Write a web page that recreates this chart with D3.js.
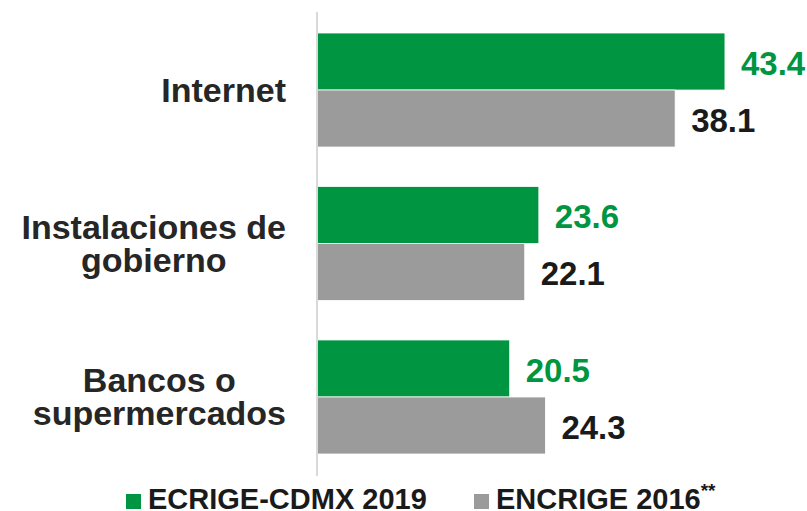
<!DOCTYPE html>
<html lang="es">
<head>
  <meta charset="UTF-8">
  <title>ECRIGE-CDMX 2019 vs ENCRIGE 2016</title>
  <script src="https://d3js.org/d3.v7.min.js"></script>
</head>

<style>
  body {
    margin: 0;
    padding: 0;
    background: #fff;
  }

  svg {
    display: block;
    font-family: "Liberation Sans", Arial, sans-serif;
    font-weight: bold;
  }
</style>

<body>
<div class="chart"></div>

<script>
  // data
  var categories = [
    ['Internet'],
    ['Instalaciones de', 'gobierno'],
    ['Bancos o', 'supermercados']
  ];
  var seriesNames = ['ECRIGE-CDMX 2019', 'ENCRIGE 2016'];
  var values2019 = [43.4, 23.6, 20.5];
  var values2016 = [38.1, 22.1, 24.3];

  var width = 807, height = 511;
  var green = '#009540', gray = '#9b9b9b';

  var svg = d3.select('.chart')
    .append('svg')
    .attr('width', width)
    .attr('height', height);

  var catKeys = categories.map(function(c) { return c.join(' '); });

  var y = d3.scaleBand()
    .domain(catKeys)
    .range([33, 454])
    .paddingInner(0.257);

  var ySub = d3.scaleBand()
    .domain([0, 1])
    .range([0, y.bandwidth()]);

  var x = d3.scaleLinear()
    .domain([0, 50])
    .range([317, 787]);

  /** rows: one per category, each with two bars */
  var rows = catKeys.map(function(k, i) {
    return { key: k, lines: categories[i], vals: [values2019[i], values2016[i]] };
  });

  var group = svg.selectAll('g.cat')
    .data(rows)
    .enter()
    .append('g')
    .attr('class', 'cat')
    .attr('transform', function(d) { return 'translate(0,' + y(d.key) + ')'; });

  group.selectAll('rect')
    .data(function(d) { return d.vals; })
    .enter()
    .append('rect')
    .attr('x', x(0))
    .attr('y', function(v, i) { return ySub(i); })
    .attr('width', function(v) { return x(v) - x(0); })
    .attr('height', ySub.bandwidth())
    .attr('fill', function(v, i) { return i === 0 ? green : gray; })
    .attr('stroke', '#ffffff')
    .attr('stroke-width', 0.8);

  group.selectAll('text.val')
    .data(function(d) { return d.vals; })
    .enter()
    .append('text')
    .attr('class', 'val')
    .attr('x', function(v) { return x(v) + 16; })
    .attr('y', function(v, i) { return ySub(i) + ySub.bandwidth() / 2 + 13.5; })
    .attr('font-size', 33)
    .attr('fill', function(v, i) { return i === 0 ? green : '#1a1a1a'; })
    .text(function(v) { return v.toFixed(1); });

  /** category labels: block right-aligned, lines centred inside it */
  var labelRight = 286, lineH = 33, catSize = 34;
  group.each(function(d) {
    var g = d3.select(this);
    var t = g.append('text')
      .attr('font-size', catSize)
      .attr('fill', '#262626')
      .attr('text-anchor', 'middle');
    var n = d.lines.length;
    var mid = y.bandwidth() / 2;
    var spans = t.selectAll('tspan')
      .data(d.lines)
      .enter()
      .append('tspan')
      .attr('y', function(l, i) { return mid + 12 + (i - (n - 1) / 2) * lineH; })
      .text(function(l) { return l; });
    var w = 0;
    spans.each(function() { w = Math.max(w, this.getComputedTextLength()); });
    spans.attr('x', labelRight - w / 2);
  });

  // vertical axis line
  svg.append('line')
    .attr('x1', x(0)).attr('x2', x(0))
    .attr('y1', 12).attr('y2', 476)
    .attr('stroke', '#d9d9d9')
    .attr('stroke-width', 2);

  // legend
  var legendX = [126, 474];
  var legend = svg.selectAll('g.legend')
    .data(seriesNames)
    .enter()
    .append('g')
    .attr('class', 'legend')
    .attr('transform', function(d, i) { return 'translate(' + legendX[i] + ',494)'; });

  legend.append('rect')
    .attr('width', 15)
    .attr('height', 15)
    .attr('fill', function(d, i) { return i === 0 ? green : gray; });

  var lt = legend.append('text')
    .attr('x', 22)
    .attr('y', 15)
    .attr('font-size', 29)
    .attr('fill', '#1a1a1a')
    .text(function(d) { return d; });

  lt.filter(function(d, i) { return i === 1; })
    .append('tspan')
    .attr('font-size', 19)
    .attr('dy', -12)
    .text('**');
</script>
</body>
</html>
